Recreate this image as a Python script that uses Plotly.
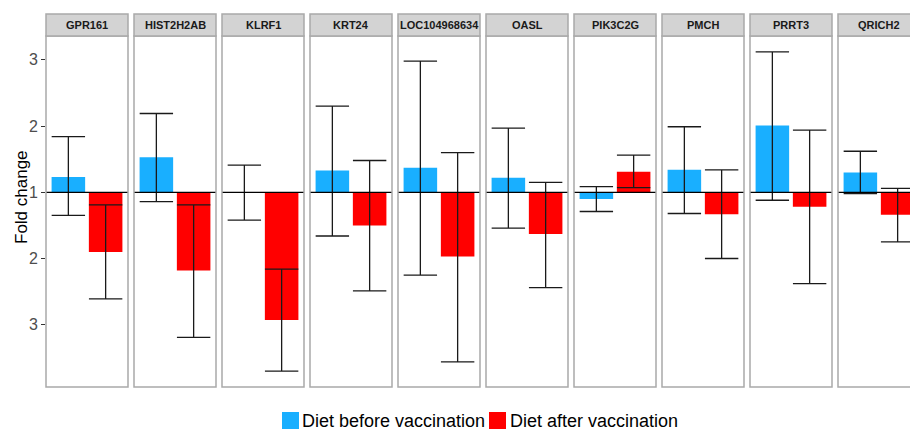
import plotly.graph_objects as go

# Genes shown as facets, left to right
genes = ["GPR161", "HIST2H2AB", "KLRF1", "KRT24", "LOC104968634",
         "OASL", "PIK3C2G", "PMCH", "PRRT3", "QRICH2"]

# Signed fold-change offsets (0 = no change, +1 = 2-fold up, -1 = 2-fold down)
before_mean = [0.23, 0.53, 0.00, 0.33, 0.37, 0.22, -0.10, 0.34, 1.01, 0.30]
before_lo = [-0.35, -0.14, -0.42, -0.66, -1.25, -0.54, -0.29, -0.32, -0.12, -0.02]
before_hi = [0.84, 1.19, 0.41, 1.30, 1.98, 0.97, 0.085, 0.99, 2.12, 0.62]

after_mean = [-0.90, -1.18, -1.93, -0.50, -0.97, -0.63, 0.31, -0.33, -0.22, -0.34]
after_lo = [-1.61, -2.19, -2.70, -1.49, -2.56, -1.44, 0.07, -1.00, -1.38, -0.75]
after_hi = [-0.19, -0.19, -1.16, 0.48, 0.60, 0.15, 0.56, 0.34, 0.94, 0.06]

series_names = ["Diet before vaccination", "Diet after vaccination"]
series_colors = ["#19AFFF", "#FF0000"]

tick_vals = [2, 1, 0, -1, -2]
tick_text = ["3", "2", "1", "2", "3"]

W, H = 910, 430
FONT = "Liberation Sans, Arial, sans-serif"


def fx(p):
    return p / W


def fy(p):
    return 1 - p / H


panel_left0, pitch, panel_w = 46, 88, 82
body_top, body_bot, strip_top = 36, 387, 14
x_lo, x_span = 0.4, 2.2
y_range = [-2.94, 2.36]
border_col = "#A9A9A9"

fig = go.Figure()
shapes, annotations = [], []

for i, gene in enumerate(genes):
    n = "" if i == 0 else str(i + 1)
    xa, ya = "x" + n, "y" + n
    left = panel_left0 + pitch * i
    right = min(left + panel_w, W)
    visible = (right - left) / panel_w

    fig.layout["xaxis" + n] = dict(
        domain=[fx(left), fx(right)],
        range=[x_lo, x_lo + x_span * visible],
        visible=False, anchor=ya, fixedrange=True,
    )
    fig.layout["yaxis" + n] = dict(
        domain=[fy(body_bot), fy(body_top)],
        range=y_range, anchor=xa,
        showgrid=False, zeroline=False, showline=False,
        tickvals=tick_vals, ticktext=tick_text,
        showticklabels=(i == 0),
        ticks="outside" if i == 0 else "",
        ticklen=4, tickwidth=1, tickcolor="#333333",
        tickfont=dict(family=FONT, size=16, color="#4D4D4D"),
        fixedrange=True,
    )

    groups = [(before_mean, before_lo, before_hi), (after_mean, after_lo, after_hi)]
    for k, (mean, lo, hi) in enumerate(groups):
        fig.add_trace(go.Bar(
            x=[k + 1], y=[mean[i]], width=0.9,
            marker=dict(color=series_colors[k], line=dict(width=0)),
            error_y=dict(type="data", symmetric=False,
                         array=[hi[i] - mean[i]],
                         arrayminus=[mean[i] - lo[i]],
                         color="#1A1A1A", thickness=1.3, width=16.7),
            name=series_names[k], showlegend=False,
            xaxis=xa, yaxis=ya,
        ))

    # reference line at no change
    shapes.append(dict(type="line", xref=xa + " domain", yref=ya,
                       x0=0, x1=1, y0=0, y1=0,
                       line=dict(color="#000000", width=1.3), layer="above"))
    # panel border
    shapes.append(dict(type="rect", xref="paper", yref="paper",
                       x0=fx(left), x1=fx(left + panel_w),
                       y0=fy(body_bot), y1=fy(body_top),
                       line=dict(color=border_col, width=1.5),
                       fillcolor="rgba(0,0,0,0)", layer="above"))
    # facet strip
    shapes.append(dict(type="rect", xref="paper", yref="paper",
                       x0=fx(left), x1=fx(left + panel_w),
                       y0=fy(body_top), y1=fy(strip_top),
                       line=dict(color=border_col, width=1.5),
                       fillcolor="#D3D3D3", layer="above"))
    annotations.append(dict(
        text=gene, xref="paper", yref="paper",
        x=fx(left + panel_w / 2), y=fy((strip_top + body_top) / 2),
        xanchor="center", yanchor="middle", showarrow=False,
        font=dict(family=FONT, size=11, color="#1A1A1A", weight="bold"),
    ))

# y-axis title
annotations.append(dict(
    text="Fold change", xref="paper", yref="paper",
    x=fx(21), y=fy(197), textangle=-90,
    xanchor="center", yanchor="middle", showarrow=False,
    font=dict(family=FONT, size=17, color="#000000"),
))

# legend keys and labels along the bottom
legend_keys = [(282, 300), (489, 508)]
for k, (sq_x, txt_x) in enumerate(legend_keys):
    shapes.append(dict(type="rect", xref="paper", yref="paper",
                       x0=fx(sq_x), x1=fx(sq_x + 17), y0=fy(429), y1=fy(412),
                       line=dict(width=0), fillcolor=series_colors[k]))
    annotations.append(dict(
        text=series_names[k], xref="paper", yref="paper",
        x=fx(txt_x), y=fy(421), xanchor="left", yanchor="middle",
        showarrow=False,
        font=dict(family=FONT, size=18, color="#000000"),
    ))

fig.update_layout(
    width=W, height=H,
    margin=dict(l=0, r=0, t=0, b=0),
    paper_bgcolor="white", plot_bgcolor="white",
    barmode="overlay", showlegend=False,
    shapes=shapes, annotations=annotations,
)

fig.write_html("out.html")
